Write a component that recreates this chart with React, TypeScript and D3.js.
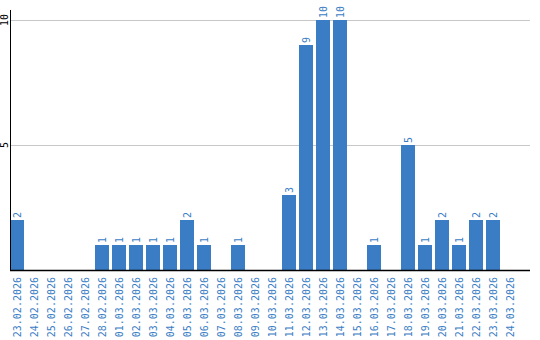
import React from "react";
import * as d3 from "d3";

const dates = [
  "23.02.2026","24.02.2026","25.02.2026","26.02.2026","27.02.2026","28.02.2026",
  "01.03.2026","02.03.2026","03.03.2026","04.03.2026","05.03.2026","06.03.2026",
  "07.03.2026","08.03.2026","09.03.2026","10.03.2026","11.03.2026","12.03.2026",
  "13.03.2026","14.03.2026","15.03.2026","16.03.2026","17.03.2026","18.03.2026",
  "19.03.2026","20.03.2026","21.03.2026","22.03.2026","23.03.2026","24.03.2026",
];
const values = [2,0,0,0,0,1,1,1,1,1,2,1,0,1,0,0,3,9,10,10,0,1,0,5,1,2,1,2,2,0];
const yTicks = [5, 10];

const W = 540, H = 340;
const left = 10, baseY = 270;
const BLUE = "#3a7dc4";
const FONT = "'DejaVu Sans Mono', monospace";

export default function App() {
  const x = d3.scaleBand<string>().domain(dates).range([left, left + 17 * dates.length]).paddingInner(3 / 17).paddingOuter(0).align(0);
  const y = d3.scaleLinear().domain([0, 10]).range([baseY, 20]);
  const bw = 14;
  const xs = (d: string, i: number) => left + i * 17;
  return (
    <svg width={W} height={H} style={{ position: "absolute", left: 0, top: 0, background: "#fff" }}>
      {yTicks.map((t) => (
        <g key={t}>
          <line x1={left} x2={530} y1={y(t) + 0.5} y2={y(t) + 0.5} stroke="#c8c8c8" strokeWidth={1} />
          <text transform={`translate(8,${y(t)}) rotate(-90)`} textAnchor="middle" fontFamily={FONT} fontSize={10} fill="#000">{t}</text>
        </g>
      ))}
      {values.map((v, i) => {
        const d = dates[i];
        const bx = xs(d, i);
        return (
          <g key={d}>
            {v > 0 && <rect x={bx} y={y(v)} width={bw} height={baseY - y(v)} fill={BLUE} />}
            {v > 0 && (
              <text transform={`translate(${bx + bw / 2 + 4},${y(v) - 2}) rotate(-90)`} textAnchor="start" fontFamily={FONT} fontSize={10} fill={BLUE}>{v}</text>
            )}
            <text transform={`translate(${bx + bw / 2 + 4},${baseY + 7}) rotate(-90)`} textAnchor="end" fontFamily={FONT} fontSize={10} fill={BLUE}>{d}</text>
          </g>
        );
      })}
      <line x1={left + 0.5} x2={left + 0.5} y1={10} y2={baseY} stroke="#000" strokeWidth={1} />
      <line x1={left} x2={530} y1={baseY + 0.5} y2={baseY + 0.5} stroke="#000" strokeWidth={1.5} />
    </svg>
  );
}
